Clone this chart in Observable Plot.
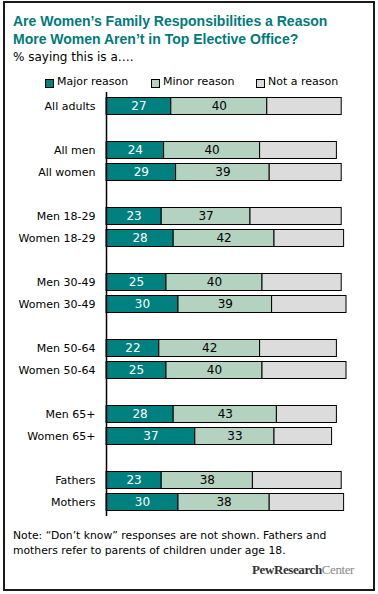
<!DOCTYPE html>
<html>
<head>
<meta charset="utf-8">
<script src="https://cdn.jsdelivr.net/npm/d3@7"></script>
<script src="https://cdn.jsdelivr.net/npm/@observablehq/plot@0.6"></script>
<style>
  html, body { margin: 0; padding: 0; background: #fff; }
  #wrap { position: relative; width: 378px; height: 594px; overflow: hidden; font-family: "DejaVu Sans", Verdana, sans-serif; color: #000; }
  #frame { position: absolute; left: 3px; top: 1px; width: 368px; height: 586px; border: 2px solid #1a1a1a; }
  .abs { position: absolute; white-space: nowrap; }
  #title { left: 13px; top: 13px; font-family: "Liberation Sans", Arial, sans-serif; font-size: 14px; font-weight: bold; color: #007b7b; line-height: 17.5px; }
  #subtitle { left: 13px; top: 50px; font-size: 12px; }
  .sw { position: absolute; width: 7px; height: 7px; border: 1px solid #000; top: 79px; }
  .lg { position: absolute; top: 75px; font-size: 11px; }
  #note { left: 13px; top: 528px; font-size: 10.8px; line-height: 15px; }
  #logo { left: 252px; top: 562px; font-family: "Liberation Serif", "DejaVu Serif", serif; font-size: 13px; letter-spacing: -0.4px; }
  #chart { position: absolute; left: 0; top: 88px; }
</style>
</head>
<body>
<div id="wrap">
  <div id="chart"></div>
  <div id="frame"></div>
  <div class="abs" id="title">Are Women’s Family Responsibilities a Reason<br>More Women Aren’t in Top Elective Office?</div>
  <div class="abs" id="subtitle">% saying this is a….</div>
  <div class="sw" style="left:45px;background:#00807f"></div>
  <div class="lg" style="left:57px">Major reason</div>
  <div class="sw" style="left:151px;background:#b3d2c0"></div>
  <div class="lg" style="left:163px">Minor reason</div>
  <div class="sw" style="left:256px;background:#dcdcdc"></div>
  <div class="lg" style="left:268px">Not a reason</div>
  <div class="abs" id="note">Note: “Don’t know” responses are not shown. Fathers and<br>mothers refer to parents of children under age 18.</div>
  <div class="abs" id="logo"><span style="color:#333;font-weight:bold">PewResearch</span><span style="color:#888">Center</span></div>
</div>
<script>
const categories = ["All adults", "All men", "All women", "Men 18-29", "Women 18-29", "Men 30-49", "Women 30-49", "Men 50-64", "Women 50-64", "Men 65+", "Women 65+", "Fathers", "Mothers"];
const major = [27, 24, 29, 23, 28, 25, 30, 22, 25, 28, 37, 23, 30];
const minor = [40, 40, 39, 37, 42, 40, 39, 42, 40, 43, 33, 38, 38];
const notReason = [31, 32, 30, 38, 29, 33, 31, 32, 35, 25, 24, 37, 31];
const seriesNames = ["Major reason", "Minor reason", "Not a reason"];
const seriesColors = ["#00807f", "#b3d2c0", "#dcdcdc"];
// groups separated by blank rows
const groups = [[0], [1, 2], [3, 4], [5, 6], [7, 8], [9, 10], [11, 12]];

const domain = [];
groups.forEach((g, i) => {
  if (i > 0) domain.push("gap" + i);
  g.forEach(j => domain.push(categories[j]));
});

const rows = [];
categories.forEach((c, i) => {
  [major[i], minor[i], notReason[i]].forEach((v, k) => rows.push({cat: c, series: seriesNames[k], value: v}));
});
const stackOpts = {x: "value", y: "cat", z: "series", order: seriesNames};

const chart = Plot.plot({
  width: 378,
  height: 440,
  marginTop: 4,
  marginBottom: 12,
  marginLeft: 106,
  marginRight: 32,
  style: {background: "transparent", fontFamily: "DejaVu Sans, Verdana, sans-serif"},
  x: {domain: [0, 100], axis: null},
  y: {domain, padding: 0, axis: null},
  color: {domain: seriesNames, range: seriesColors},
  marks: [
    Plot.barX(rows, Plot.stackX({...stackOpts, fill: "series", stroke: "#000", strokeWidth: 1, insetTop: 2.5, insetBottom: 2.5})),
    Plot.textX(rows, Plot.stackX({...stackOpts, text: d => d.series === "Major reason" ? String(d.value) : "", fill: "white", fontSize: 12})),
    Plot.textX(rows, Plot.stackX({...stackOpts, text: d => d.series === "Minor reason" ? String(d.value) : "", fill: "black", fontSize: 12})),
    Plot.axisY({ticks: categories, tickSize: 0, tickPadding: 11, fontSize: 11, textAnchor: "end", label: null}),
    Plot.ruleX([0], {stroke: "#000", strokeWidth: 1.5})
  ]
});
document.getElementById("chart").appendChild(chart);
</script>
</body>
</html>
